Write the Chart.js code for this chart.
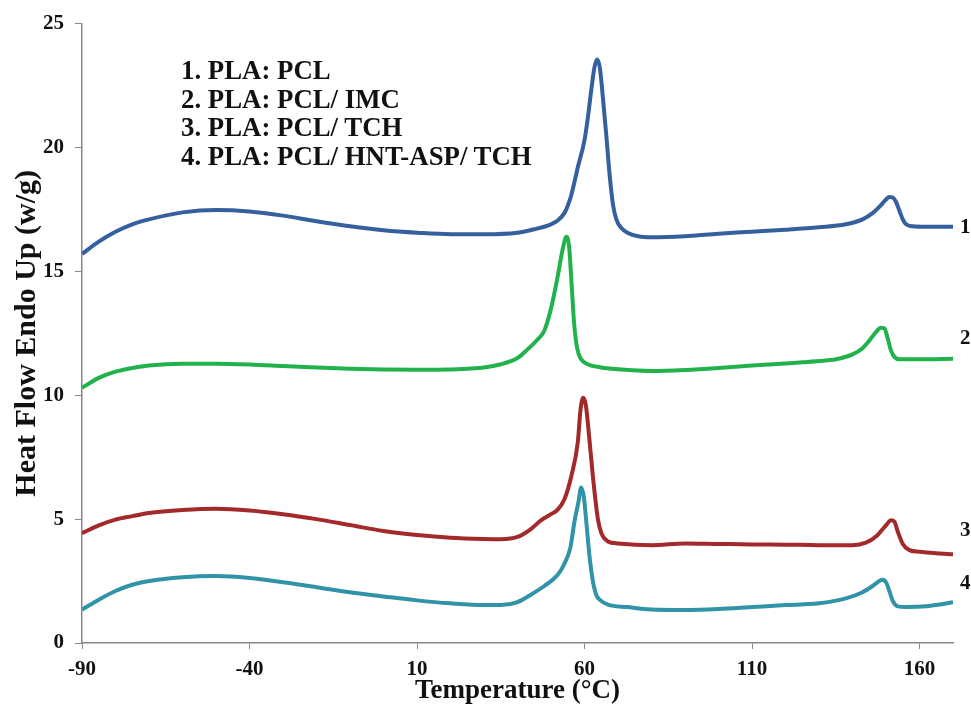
<!DOCTYPE html>
<html>
<head>
<meta charset="utf-8">
<script src="https://cdn.jsdelivr.net/npm/chart.js@4.4.0/dist/chart.umd.min.js"></script>
<style>
  html, body { margin:0; padding:0; background:#fff; }
  #wrap { position:relative; width:971px; height:711px; }
  #legendBox { position:absolute; left:181px; top:56px; font:bold 26.8px "Liberation Serif", "Times New Roman", serif; line-height:28.5px; color:#111; white-space:nowrap; }
</style>
</head>
<body>
<div id="wrap">
  <canvas id="dsc" width="971" height="711"></canvas>
  <div id="legendBox">
    <div>1. PLA: PCL</div>
    <div>2. PLA: PCL/ IMC</div>
    <div>3. PLA: PCL/ TCH</div>
    <div>4. PLA: PCL/ HNT-ASP/ TCH</div>
  </div>
</div>
<script>
(function(){
  // x axis ticks (temperature, °C) and y ticks (heat flow)
  const xTicks = [-90, -40, 10, 60, 110, 160];
  const yTicks = [0, 5, 10, 15, 20, 25];

  // 1. PLA: PCL
  const pclT  = [-90,-85,-80,-75,-70,-60,-50,-40,-30,-20,-10,0,10,20,30,40,45,50,52,54,55,56,57,58,60,61,62,63,63.8,64.6,65.5,66.5,67.5,68.5,69.5,71,73,76,80,90,100,110,120,130,138,143,146,148,150,151,152,153,154,155,156,158,162,170];
  const pclHF = [15.7,16.2,16.6,16.9,17.1,17.38,17.48,17.42,17.25,17.02,16.82,16.66,16.56,16.5,16.5,16.56,16.7,16.9,17.05,17.35,17.65,18.05,18.6,19.2,20.3,21.2,22.3,23.25,23.55,23.2,22.0,20.5,18.9,17.7,17.1,16.75,16.55,16.42,16.38,16.42,16.52,16.6,16.68,16.78,16.9,17.1,17.35,17.6,17.9,18.0,17.98,17.8,17.45,17.1,16.9,16.82,16.8,16.8];

  // 2. PLA: PCL/ IMC
  const imcT  = [-90,-85,-80,-75,-70,-60,-50,-40,-30,-20,-10,0,10,20,25,30,35,40,43,46,48,50,52,53.5,54.6,55.4,56.1,56.9,57.8,59,61,65,70,80,90,100,110,120,125,130,135,140,143,145,147,148.5,149.5,150.5,151.5,152.5,154,160,170];
  const imcHF = [10.3,10.7,10.95,11.1,11.2,11.27,11.27,11.24,11.18,11.12,11.07,11.04,11.03,11.04,11.07,11.12,11.25,11.5,11.85,12.25,12.6,13.5,14.8,15.9,16.4,16.0,14.6,12.9,11.9,11.45,11.25,11.12,11.05,10.98,11.02,11.1,11.2,11.28,11.33,11.38,11.45,11.65,11.9,12.2,12.55,12.72,12.7,12.3,11.8,11.55,11.45,11.45,11.47];

  // 3. PLA: PCL/ TCH
  const tchT  = [-90,-85,-80,-75,-70,-60,-50,-40,-30,-20,-10,0,10,20,30,35,40,44,47,50,52,54,56,58,58.8,59.6,60.4,61.2,62.6,64,65,67,70,80,90,100,110,120,130,140,144,147,150,151.5,152.5,153.5,155,157,160,165,170];
  const tchHF = [4.43,4.75,4.98,5.12,5.25,5.37,5.42,5.35,5.2,5.0,4.76,4.52,4.36,4.25,4.2,4.19,4.28,4.6,4.95,5.2,5.38,5.8,6.7,8.1,9.4,9.9,9.6,8.6,6.6,5.0,4.45,4.1,4.02,3.95,4.02,4.0,3.98,3.97,3.95,3.95,4.05,4.3,4.75,4.95,4.9,4.5,4.0,3.75,3.68,3.62,3.58];

  // 4. PLA: PCL/ HNT-ASP/ TCH
  const hntT  = [-90,-85,-80,-75,-70,-60,-50,-40,-30,-20,-10,0,10,20,30,35,40,44,48,52,54,55.8,57,58.2,59,59.8,60.6,61.5,62.5,63.5,64.7,67,72.8,80,90,100,110,120,130,138,143,146,148,149,150,151,152,153.5,156,162,166,170];
  const hntHF = [1.35,1.75,2.1,2.35,2.5,2.65,2.7,2.62,2.45,2.25,2.05,1.88,1.72,1.6,1.53,1.53,1.65,1.95,2.3,2.75,3.2,3.86,4.9,5.7,6.28,5.9,4.8,3.5,2.5,1.95,1.73,1.55,1.45,1.35,1.33,1.37,1.45,1.53,1.6,1.8,2.05,2.3,2.5,2.55,2.45,2.1,1.7,1.48,1.45,1.48,1.55,1.65];

  // curve numbers shown at the right end
  const curveNames = ['1', '2', '3', '4'];
  const curveNameY = [16.75, 12.3, 4.55, 2.4];
  const colors = ['#35609e', '#22b24c', '#a3292b', '#3193a8'];

  function pts(T, V){ return T.map((t,i)=>({x:t, y:V[i]})); }

  const series = [[pclT,pclHF],[imcT,imcHF],[tchT,tchHF],[hntT,hntHF]];
  const datasets = series.map((s,i)=>({
    data: pts(s[0], s[1]),
    borderColor: colors[i],
    borderWidth: 4,
    pointRadius: 0,
    fill: false,
    cubicInterpolationMode: 'monotone'
  }));

  const FONT = '"Liberation Serif", "Times New Roman", serif';

  const curveLabels = {
    id: 'curveLabels',
    afterDatasetsDraw(chart){
      const {ctx, chartArea, scales} = chart;
      ctx.save();
      ctx.font = 'bold 21px ' + FONT;
      ctx.fillStyle = '#111';
      ctx.textAlign = 'left';
      ctx.textBaseline = 'middle';
      curveNames.forEach((n,i)=>{
        ctx.fillText(n, chartArea.right + 7, scales.y.getPixelForValue(curveNameY[i]));
      });
      ctx.restore();
    }
  };

  new Chart(document.getElementById('dsc'), {
    type: 'line',
    data: { datasets },
    options: {
      responsive: false,
      animation: false,
      layout: { padding: { top: 21, right: 18, left: 0, bottom: 0 } },
      plugins: { legend: { display: false }, tooltip: { enabled: false } },
      scales: {
        x: {
          type: 'linear', min: -90, max: 170,
          afterBuildTicks(scale){ scale.ticks = xTicks.map(v=>({value:v})); },
          afterFit(scale){ scale.height = 68; },
          grid: { drawOnChartArea: false, color: '#888', tickLength: 6 },
          border: { color: '#888', width: 1.5 },
          ticks: { color: '#111', padding: 8, font: { family: FONT, size: 21, weight: 'bold' } },
          title: { display: true, text: 'Temperature (°C)', color: '#111', padding: { top: 0, bottom: 4 }, font: { family: FONT, size: 27, weight: 'bold' } }
        },
        y: {
          min: 0, max: 25,
          afterBuildTicks(scale){ scale.ticks = yTicks.map(v=>({value:v})); },
          afterFit(scale){ scale.width = 82; },
          grid: { drawOnChartArea: false, color: '#888', tickLength: 7 },
          border: { color: '#888', width: 1.5 },
          ticks: { color: '#111', padding: 11, font: { family: FONT, size: 21, weight: 'bold' } },
          title: { display: true, text: 'Heat Flow Endo Up (w/g)', color: '#111', padding: { top: 9, bottom: 0 }, font: { family: FONT, size: 30, weight: 'bold' } }
        }
      }
    },
    plugins: [curveLabels]
  });
})();
</script>
</body>
</html>
